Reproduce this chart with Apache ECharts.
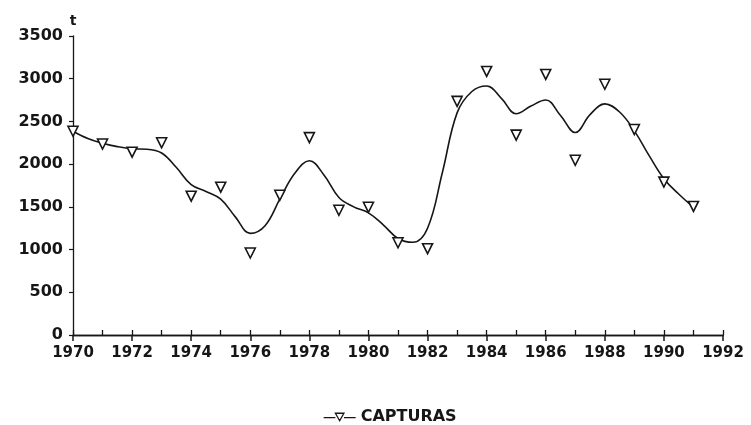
<!DOCTYPE html>
<html>
<head>
<meta charset="utf-8">
<script src="https://cdn.jsdelivr.net/npm/echarts@6/dist/echarts.min.js"></script>
<style>
  html, body { margin: 0; padding: 0; background: #fff; }
  #chart { width: 751px; height: 425px; }
</style>
</head>
<body>
<div id="chart"></div>
<script>
// capturas anuales (t)
var years = [1970, 1971, 1972, 1973, 1974, 1975, 1976, 1977, 1978, 1979, 1980,
             1981, 1982, 1983, 1984, 1985, 1986, 1987, 1988, 1989, 1990, 1991];
var capturas = [2385, 2235, 2140, 2250, 1625, 1730, 960, 1635, 2310, 1460, 1495,
                1080, 1010, 2735, 3085, 2340, 3050, 2045, 2935, 2405, 1790, 1505];

// curva suavizada
var curveX = [1970, 1970.5, 1971, 1971.5, 1972, 1972.5, 1973, 1973.5, 1974, 1974.5, 1975, 1975.5,
              1976, 1976.5, 1977, 1977.5, 1978, 1978.5, 1979, 1979.5, 1980, 1980.5, 1981,
              1981.5, 1982, 1982.5, 1983, 1983.5, 1984, 1984.5, 1985, 1985.5, 1986, 1986.5,
              1987, 1987.5, 1988, 1988.5, 1989, 1989.5, 1990, 1990.5, 1991];
var curveY = [2385, 2300, 2245, 2205, 2180, 2175, 2130, 1960, 1760, 1680, 1590, 1380,
              1190, 1280, 1590, 1890, 2040, 1870, 1610, 1500, 1430, 1290, 1130,
              1085, 1250, 1900, 2600, 2850, 2915, 2770, 2590, 2680, 2750, 2570,
              2370, 2580, 2705, 2610, 2390, 2100, 1830, 1650, 1495];

var yTicks = [0, 500, 1000, 1500, 2000, 2500, 3000, 3500];

var ink = '#161616';
var fontFam = 'DejaVu Sans';

var chart = echarts.init(document.getElementById('chart'));

var curveData = [];
for (var i = 0; i < curveX.length; i++) curveData.push([curveX[i], curveY[i]]);
var pointData = [];
for (var j = 0; j < years.length; j++) pointData.push([years[j], capturas[j]]);

var option = {
  animation: false,
  backgroundColor: '#fff',
  grid: { left: 73, right: 28, top: 36, bottom: 90 },
  legend: {
    top: 404,
    left: 318,
    data: [{
      name: 'CAPTURAS',
      icon: 'path://M0,6 L11,6 M11,2 L19,2 L15,9 Z M19,6 L30,6',
      itemStyle: { color: '#fff', borderColor: ink, borderWidth: 1.3 }
    }],
    itemWidth: 32,
    itemHeight: 10,
    itemGap: 6,
    textStyle: { color: ink, fontFamily: fontFam, fontWeight: 'bold', fontSize: 16 }
  },
  xAxis: [{
    type: 'value',
    gridIndex: 0,
    min: 1970, max: 1992, interval: 2,
    axisLine: { lineStyle: { color: ink, width: 1.3 } },
    axisTick: { length: 6, lineStyle: { color: ink, width: 1.5 } },
    axisLabel: { margin: 11, color: ink, fontFamily: fontFam, fontWeight: 'bold', fontSize: 15,
                 formatter: function (v) { return String(v); } },
    splitLine: { show: false }
  }, {
    type: 'value',
    gridIndex: 0,
    position: 'bottom',
    min: 1970, max: 1992, interval: 1,
    axisLine: { show: true, lineStyle: { color: ink, width: 1.3 } },
    axisTick: { show: true, inside: true, length: 5, lineStyle: { color: ink, width: 1.3 } },
    axisLabel: { show: false },
    splitLine: { show: false }
  }],
  yAxis: {
    type: 'value',
    min: 0, max: 3500, interval: 500,
    name: 't',
    nameGap: 8,
    nameTextStyle: { color: ink, fontFamily: fontFam, fontWeight: 'bold', fontSize: 14, align: 'center' },
    axisLine: { show: true, lineStyle: { color: ink, width: 1.3 } },
    axisTick: { show: true, length: 4, lineStyle: { color: ink, width: 1.2 } },
    axisLabel: { margin: 10, color: ink, fontFamily: fontFam, fontWeight: 'bold', fontSize: 16,
                 formatter: function (v) { return yTicks.indexOf(v) >= 0 ? String(v) : ''; } },
    splitLine: { show: false }
  },
  series: [{
    name: 'curva',
    type: 'line',
    xAxisIndex: 0,
    data: curveData,
    smooth: 0.4,
    showSymbol: false,
    lineStyle: { color: ink, width: 1.6 },
    z: 2
  }, {
    name: 'CAPTURAS',
    type: 'scatter',
    xAxisIndex: 0,
    data: pointData,
    symbol: 'triangle',
    symbolRotate: 180,
    symbolSize: 10,
    itemStyle: { color: '#fff', borderColor: ink, borderWidth: 1.6, opacity: 1 },
    z: 3
  }]
};

chart.setOption(option);
</script>
</body>
</html>
